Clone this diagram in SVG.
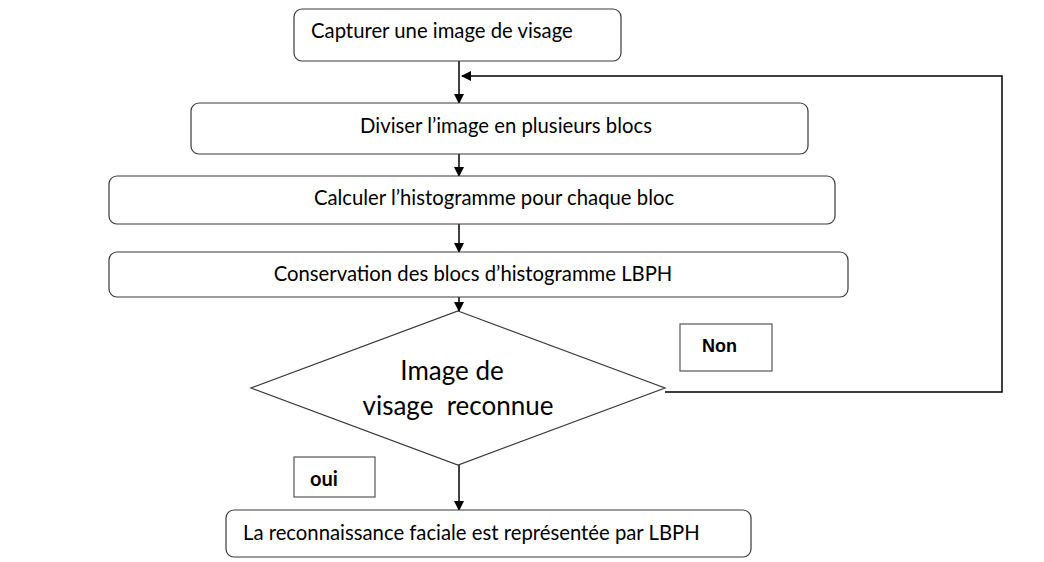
<svg xmlns="http://www.w3.org/2000/svg" width="1044" height="562" viewBox="0 0 1044 562">
<style>
.box{fill:#fff;stroke:#3a3a3a;stroke-width:1.2}
.lbl{fill:#fff;stroke:#555;stroke-width:1.2}
.t{font-family:Lato,"Open Sans",sans-serif;font-size:20.3px;fill:#000}
.big{font-family:Lato,"Open Sans",sans-serif;font-size:26px;fill:#000}
.b{font-family:"Liberation Sans",Arial,sans-serif;font-weight:bold;font-size:18px;fill:#000}
.bl{font-family:Lato,sans-serif;font-weight:bold;font-size:20px;fill:#000}
.c{fill:none;stroke:#000;stroke-width:1.5}
</style>
<defs>
<marker id="ah" markerWidth="10" markerHeight="10" refX="9" refY="5" orient="auto" markerUnits="userSpaceOnUse">
<path d="M0,0 L10,5 L0,10 Z" fill="#000"/>
</marker>
</defs>
<rect width="1044" height="562" fill="#fff"/>
<g id="connectors">
<line class="c" x1="459" y1="61" x2="459" y2="103" marker-end="url(#ah)"/>
<polyline class="c" points="665,392 1002,392 1002,76 462,76" marker-end="url(#ah)"/>
<line class="c" x1="459" y1="154" x2="459" y2="176" marker-end="url(#ah)"/>
<line class="c" x1="459" y1="224" x2="459" y2="252" marker-end="url(#ah)"/>
<line class="c" x1="459" y1="297" x2="459" y2="311" marker-end="url(#ah)"/>
<line class="c" x1="459" y1="465" x2="459" y2="510" marker-end="url(#ah)"/>
</g>
<g id="n1">
<rect class="box" x="294" y="9" width="327" height="52" rx="8"/>
<text class="t" x="311" y="38">Capturer une image de visage</text>
</g>
<g id="n2">
<rect class="box" x="191" y="103" width="617" height="51" rx="8"/>
<text class="t" x="506" y="133" text-anchor="middle">Diviser l’image en plusieurs blocs</text>
</g>
<g id="n3">
<rect class="box" x="109" y="176" width="726" height="48" rx="8"/>
<text class="t" x="494" y="205" text-anchor="middle">Calculer l’histogramme pour chaque bloc</text>
</g>
<g id="n4">
<rect class="box" x="109" y="252" width="739" height="45" rx="8"/>
<text class="t" x="473" y="281" text-anchor="middle">Conservation des blocs d’histogramme LBPH</text>
</g>
<g id="n5">
<polygon class="box" points="458,311 665,388 458,465 251,388"/>
<text class="big" x="452" y="380" text-anchor="middle">Image de</text>
<text class="big" x="458" y="415" text-anchor="middle" xml:space="preserve">visage  reconnue</text>
</g>
<g id="non">
<rect class="lbl" x="680" y="324" width="92" height="47"/>
<text class="b" x="702" y="352">Non</text>
</g>
<g id="oui">
<rect class="lbl" x="294" y="457" width="81" height="40"/>
<text class="bl" x="310" y="486">oui</text>
</g>
<g id="n6">
<rect class="box" x="226" y="510" width="525" height="47" rx="8"/>
<text class="t" x="243" y="540">La reconnaissance faciale est représentée par LBPH</text>
</g>
</svg>
